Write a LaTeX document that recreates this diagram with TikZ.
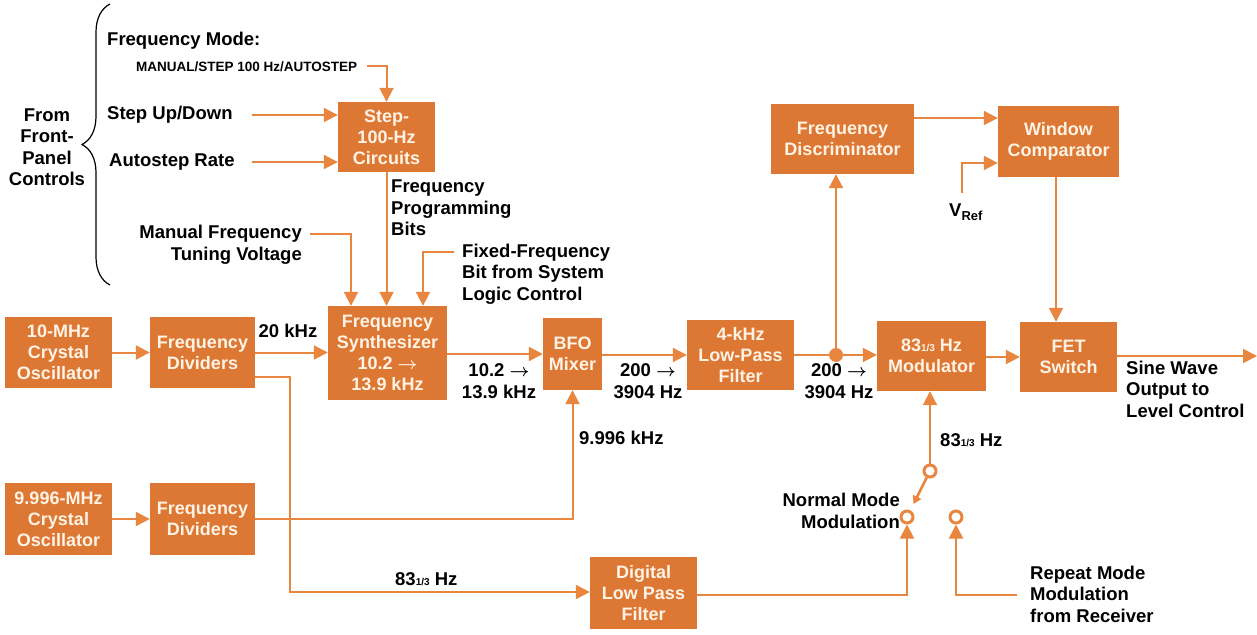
\documentclass[tikz,border=0pt]{standalone}
\usepackage{fontspec}
\setmainfont{Liberation Sans}
\usetikzlibrary{arrows.meta,decorations.pathreplacing}
\definecolor{hporange}{HTML}{DD7834}
\definecolor{hpwire}{HTML}{E8853F}
\definecolor{hpcream}{HTML}{FFF3E6}
\newcommand{\onethird}{{\fontsize{10}{10}\selectfont 1/3}}
\newcommand{\sweep}{\mbox{\boldmath$\rightarrow$}}

\tikzset{
  blk/.style={fill=hporange, text=hpcream, align=center, inner sep=0pt,
    font=\bfseries\fontsize{18}{21}\selectfont},
  lbl/.style={inner sep=0pt, font=\bfseries\fontsize{18.5}{21.5}\selectfont},
  small/.style={inner sep=0pt, font=\bfseries\fontsize{13.5}{15}\selectfont},
  wire/.style={draw=hpwire, line width=2pt},
  sig/.style={wire, -{Triangle[length=14pt,width=14pt]}},
  contact/.style={circle, draw=hpwire, line width=3pt, fill=white,
    minimum size=12pt, inner sep=0pt},
}

\begin{document}
\begin{tikzpicture}[x=1pt,y=-1pt]
\useasboundingbox (0,0) rectangle (1257,634);

% front panel controls
\draw[line width=1.2pt, decorate, decoration={brace, amplitude=28pt}]
  (110,285) -- (110,4);
\node[lbl, align=center] (fp) at (47,147) {From\\Front-\\Panel\\Controls};
\node[lbl, anchor=west] (fmode) at (107,41) {Frequency Mode:};
\node[small, anchor=west] (msa) at (136,67) {MANUAL/STEP 100 Hz/AUTOSTEP};
\node[lbl, anchor=west] (sud) at (107,115) {Step Up/Down};
\node[lbl, anchor=west] (asr) at (109,162) {Autostep Rate};
\node[lbl, align=right, anchor=east] (mftv) at (302,245) {Manual Frequency\\Tuning Voltage};
\node[lbl, align=left, anchor=west] (ffb) at (462,274) {Fixed-Frequency\\Bit from System\\Logic Control};
\node[lbl, align=left, anchor=west] (fpb) at (391,208) {Frequency\\Programming\\Bits};

% blocks
\node[blk, minimum width=97pt, minimum height=70pt] (step) at (386.5,137) {Step-\\100-Hz\\Circuits};
\node[blk, minimum width=107pt, minimum height=71pt] (osc1) at (58.5,352.5) {10-MHz\\Crystal\\Oscillator};
\node[blk, minimum width=105pt, minimum height=71pt] (div1) at (202.5,352.5) {Frequency\\Dividers};
\node[blk, minimum width=119pt, minimum height=94pt] (synth) at (387.5,353) {Frequency\\Synthesizer\\10.2 \sweep\\13.9 kHz};
\node[blk, minimum width=59pt, minimum height=72pt] (bfo) at (572.5,354) {BFO\\Mixer};
\node[blk, minimum width=107pt, minimum height=70pt] (lpf) at (740.5,355) {4-kHz\\Low-Pass\\Filter};
\node[blk, minimum width=109pt, minimum height=70pt] (mod) at (931.5,356) {83\onethird{} Hz\\Modulator};
\node[blk, minimum width=97pt, minimum height=70pt] (fet) at (1068.5,357) {FET\\Switch};
\node[blk, minimum width=143pt, minimum height=70pt] (disc) at (842.5,139) {Frequency\\Discriminator};
\node[blk, minimum width=121pt, minimum height=71pt] (win) at (1058.5,141.5) {Window\\Comparator};
\node[blk, minimum width=107pt, minimum height=72pt] (osc2) at (58.5,519) {9.996-MHz\\Crystal\\Oscillator};
\node[blk, minimum width=105pt, minimum height=72pt] (div2) at (202.5,519) {Frequency\\Dividers};
\node[blk, minimum width=107pt, minimum height=72pt] (dlpf) at (643.5,593) {Digital\\Low Pass\\Filter};

% signal labels
\node[lbl] (f20k) at (288,331) {20 kHz};
\node[lbl, align=center] (fsyn) at (499,381) {10.2 \sweep\\13.9 kHz};
\node[lbl, align=center] (fbfo) at (648,381) {200 \sweep\\3904 Hz};
\node[lbl, align=center] (flpf) at (839,381) {200 \sweep\\3904 Hz};
\node[lbl, anchor=west] (f9996) at (579,438) {9.996 kHz};
\node[lbl, anchor=west] (f83a) at (395,579) {83\onethird{} Hz};
\node[lbl, anchor=west] (f83b) at (940,440) {83\onethird{} Hz};
\node[lbl] (vref) at (966,212) {V\textsubscript{Ref}};
\node[lbl, align=left, anchor=west] (sine) at (1126,389) {Sine Wave\\Output to\\Level Control};
\node[lbl, align=right, anchor=east] (nmm) at (900,511) {Normal Mode\\Modulation};
\node[lbl, align=left, anchor=west] (rmm) at (1030,594) {Repeat Mode\\Modulation\\from Receiver};

% switch
\node[contact] (swc) at (930,471) {};
\node[contact] (swn) at (907,517) {};
\node[contact] (swr) at (956,517) {};
\fill[hpwire] (836,355) circle (7pt) coordinate (tap);

% free ends
\coordinate (fmin) at (367,66);
\coordinate (sudin) at (252,115);
\coordinate (asrin) at (252,162);
\coordinate (mftin) at (310,234);
\coordinate (ffbin) at (454,252);
\coordinate (vrefin) at (962,193);
\coordinate (rmmin) at (1017,595);
\coordinate (out) at (1257,356);

% connections
\draw[sig] (fmin) -| (step.north);
\draw[sig] (sudin) -- (sudin -| step.west);
\draw[sig] (asrin) -- (asrin -| step.west);
\draw[sig] (step.south) -- (step.south |- synth.north);
\draw[sig] (mftin) -| (mftin -| 351,0) -- (synth.north -| 351,0);
\draw[sig] (ffbin) -| (ffbin -| 423,0) -- (synth.north -| 423,0);
\draw[sig] (osc1) -- (div1);
\draw[sig] (div1.east) -- (div1.east -| synth.west);
\draw[sig] (div1.east |- 0,377) -| (290,592) -- (dlpf.west |- 0,592);
\draw[sig] (osc2) -- (div2);
\draw[sig] (div2.east) -| (bfo.south);
\draw[sig] (synth.east |- 0,354) -- (bfo.west |- 0,354);
\draw[sig] (bfo.east |- 0,355) -- (lpf.west |- 0,355);
\draw[sig] (lpf.east) -- (mod.west |- lpf.east);
\draw[sig] (tap) -- (tap |- disc.south);
\draw[sig] (disc.east |- 0,118) -- (win.west |- 0,118);
\draw[sig] (vrefin) |- (win.west |- 0,163);
\draw[sig] (win.south -| 1056,0) -- (fet.north -| 1056,0);
\draw[sig] (mod.east |- 0,357) -- (fet.west |- 0,357);
\draw[sig] (fet.east |- out) -- (out);
\draw[sig] (swc) -- (swc |- mod.south);
\draw[wire, line width=2.5pt, -{Triangle[length=8pt,width=9pt]}, shorten >=7pt] (swc) -- (swn);
\draw[sig] (dlpf.east |- 0,595) -| (swn.south);
\draw[sig] (rmmin) -| (swr.south);
\end{tikzpicture}
\end{document}
